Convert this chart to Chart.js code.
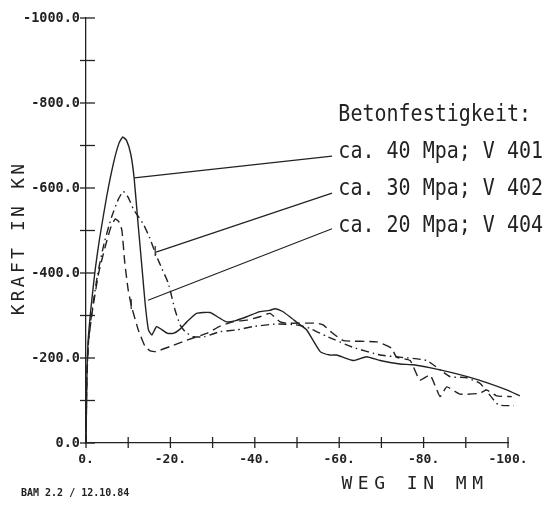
<!DOCTYPE html>
<html>
<head>
<meta charset="utf-8">
<title>Kraft-Weg</title>
<script src="https://cdn.jsdelivr.net/npm/chart.js@4/dist/chart.umd.min.js"></script>
<style>
  body { margin: 0; background: #fff; }
  #wrap { width: 553px; height: 505px; }
</style>
</head>
<body>
<div id="wrap"><canvas id="chart" width="553" height="505"></canvas></div>
<script>
const weg40 = [0, -0.2, -0.5, -1.2, -2.2, -3.2, -4.9, -6.5, -7.8, -8.7, -9.6, -10.6, -11.4, -12.3, -13.2, -14.0, -14.8, -15.6, -16.7, -17.8, -19.3, -20.7, -22.3, -23.9, -26.2, -29.4, -31.8, -33.3, -35.5, -38.1, -41.2, -43.5, -44.8, -46.5, -48.3, -50.2, -52.3, -55.5, -57.8, -59.4, -63.3, -66.5, -69.7, -74.4, -77.6, -83.9, -91.8, -99.7, -102.8];
const kraft40 = [0, -150, -240, -320, -410, -480, -580, -658, -705, -720, -712, -680, -624, -520, -420, -330, -266, -254, -274, -268, -258, -258, -268, -285, -305, -307, -293, -285, -288, -297, -309, -312, -316, -310, -297, -282, -266, -215, -207, -207, -194, -203, -194, -186, -184, -172, -152, -125, -111];

const weg30 = [0, -0.2, -0.6, -1.4, -2.8, -4.3, -6.0, -7.6, -8.8, -10.0, -11.2, -12.6, -13.6, -15.0, -16.7, -18.0, -19.5, -21.1, -22.3, -23.5, -25.4, -28.0, -31.8, -35.7, -39.6, -45.2, -49.9, -53.0, -57.0, -63.3, -69.7, -74.4, -80.7, -86.3, -90.0, -93.4, -97.7, -101.4];
const kraft30 = [0, -150, -240, -310, -400, -470, -530, -572, -592, -578, -551, -530, -515, -485, -440, -410, -376, -313, -278, -262, -250, -250, -262, -266, -274, -280, -278, -270, -251, -225, -207, -202, -194, -156, -154, -140, -90, -88];

const weg20 = [0, -0.2, -0.6, -1.5, -3.0, -4.5, -5.8, -6.9, -7.7, -8.5, -9.2, -10.0, -10.8, -12.4, -14.0, -15.2, -16.5, -19.9, -23.9, -28.6, -31.8, -34.8, -38.1, -41.2, -43.6, -46.0, -47.5, -54.6, -56.2, -58.0, -61.0, -68.9, -72.4, -73.6, -76.8, -79.1, -81.5, -82.7, -83.9, -85.5, -88.6, -93.4, -94.9, -97.3, -100.9];
const kraft20 = [0, -150, -240, -310, -400, -460, -505, -527, -522, -501, -423, -360, -321, -266, -227, -217, -215, -227, -242, -258, -275, -285, -289, -297, -305, -285, -282, -282, -278, -262, -241, -238, -223, -202, -194, -148, -160, -136, -109, -132, -115, -117, -125, -111, -109];

const serien = ['ca. 40 Mpa; V 401', 'ca. 30 Mpa; V 402', 'ca. 20 Mpa; V 404'];
const legendeTitel = 'Betonfestigkeit:';
const xTitel = 'WEG IN MM';
const yTitel = 'KRAFT IN KN';
const fussnote = 'BAM 2.2 / 12.10.84';

const ink = '#222';
const mono = '"DejaVu Sans Mono", "Liberation Mono", monospace';

const punkte = (xs, ys) => xs.map((x, i) => ({ x, y: ys[i] }));

function linie(ctx, x1, y1, x2, y2) {
  ctx.beginPath();
  ctx.moveTo(x1, y1);
  ctx.lineTo(x2, y2);
  ctx.stroke();
}

// Plotter-Striche: Teilstriche quer ueber die Achsen, Beschriftung, Hinweislinien
const plotter = {
  id: 'plotter',
  afterDraw(chart) {
    const { ctx, scales: { x, y } } = chart;
    ctx.save();
    ctx.strokeStyle = ink;
    ctx.fillStyle = ink;
    ctx.lineWidth = 1.3;

    for (let v = 0; v >= -100; v -= 10) {
      const px = x.getPixelForValue(v);
      linie(ctx, px, y.bottom - 6, px, y.bottom + 5);
    }
    for (let v = 0; v >= -1000; v -= 100) {
      const py = y.getPixelForValue(v);
      linie(ctx, x.left - 6, py, x.left + 9, py);
    }

    // Hinweislinien zu den Kurven
    const von = [[-11.45, -624], [-16.6, -449], [-14.7, -336]];
    const bis = [[-58.3, -675], [-58.3, -588], [-58.3, -504]];
    ctx.lineWidth = 1.2;
    von.forEach((p, i) => {
      linie(ctx, x.getPixelForValue(p[0]), y.getPixelForValue(p[1]),
        x.getPixelForValue(bis[i][0]), y.getPixelForValue(bis[i][1]));
    });
    const marken = [[-16.4, -452], [-10.7, -327]];
    marken.forEach(m => {
      const px = x.getPixelForValue(m[0]), py = y.getPixelForValue(m[1]);
      linie(ctx, px, py - 5, px, py + 5);
    });

    // Legendentext
    ctx.font = '20px ' + mono;
    ctx.textAlign = 'left';
    ctx.textBaseline = 'middle';
    const tx = x.getPixelForValue(-59.8);
    const zeilen = [legendeTitel, ...serien];
    const zeilenY = [-772, -685, -598, -511];
    zeilen.forEach((t, i) => {
      ctx.save();
      ctx.translate(tx, y.getPixelForValue(zeilenY[i]));
      ctx.scale(1, 1.15);
      ctx.fillText(t, 0, 0);
      ctx.restore();
    });

    // Achsentitel
    ctx.font = '18px ' + mono;
    ctx.textAlign = 'center';
    ctx.letterSpacing = '5.5px';
    ctx.fillText(xTitel, 415, 484);
    ctx.save();
    ctx.translate(19, 240);
    ctx.rotate(-Math.PI / 2);
    ctx.letterSpacing = '3.2px';
    ctx.fillText(yTitel, 2, 0);
    ctx.restore();

    ctx.letterSpacing = '0px';
    ctx.font = 'bold 10px ' + mono;
    ctx.textAlign = 'left';
    ctx.fillText(fussnote, 21, 493);
    ctx.restore();
  }
};

const basis = { borderColor: ink, borderWidth: 1.4, pointRadius: 0, tension: 0.15, clip: false, fill: false };

new Chart(document.getElementById('chart'), {
  type: 'line',
  data: {
    datasets: [
      { ...basis, label: serien[0], data: punkte(weg40, kraft40) },
      { ...basis, label: serien[1], data: punkte(weg30, kraft30), borderDash: [8, 4, 1.5, 4] },
      { ...basis, label: serien[2], data: punkte(weg20, kraft20), borderDash: [9, 5] }
    ]
  },
  options: {
    responsive: false,
    animation: false,
    layout: { padding: { top: 18, right: 45, bottom: 0, left: 0 } },
    plugins: { legend: { display: false }, tooltip: { enabled: false } },
    scales: {
      x: {
        type: 'linear',
        min: -100, max: 0, reverse: true,
        afterFit: s => { s.height = 62; },
        border: { display: true, color: ink, width: 1.3 },
        grid: { drawOnChartArea: false, drawTicks: false },
        ticks: {
          stepSize: 20, padding: 9, color: ink, maxRotation: 0,
          font: { family: mono, size: 13, weight: 'bold' },
          callback: v => v + '.'
        }
      },
      y: {
        type: 'linear',
        min: -1000, max: 0, reverse: true,
        afterFit: s => { s.width = 86; },
        border: { display: true, color: ink, width: 1.3 },
        grid: { drawOnChartArea: false, drawTicks: false },
        ticks: {
          stepSize: 200, padding: 6, color: ink,
          font: { family: mono, size: 13.5, weight: 'bold' },
          callback: v => v.toFixed(1)
        }
      }
    }
  },
  plugins: [plotter]
});
</script>
</body>
</html>
